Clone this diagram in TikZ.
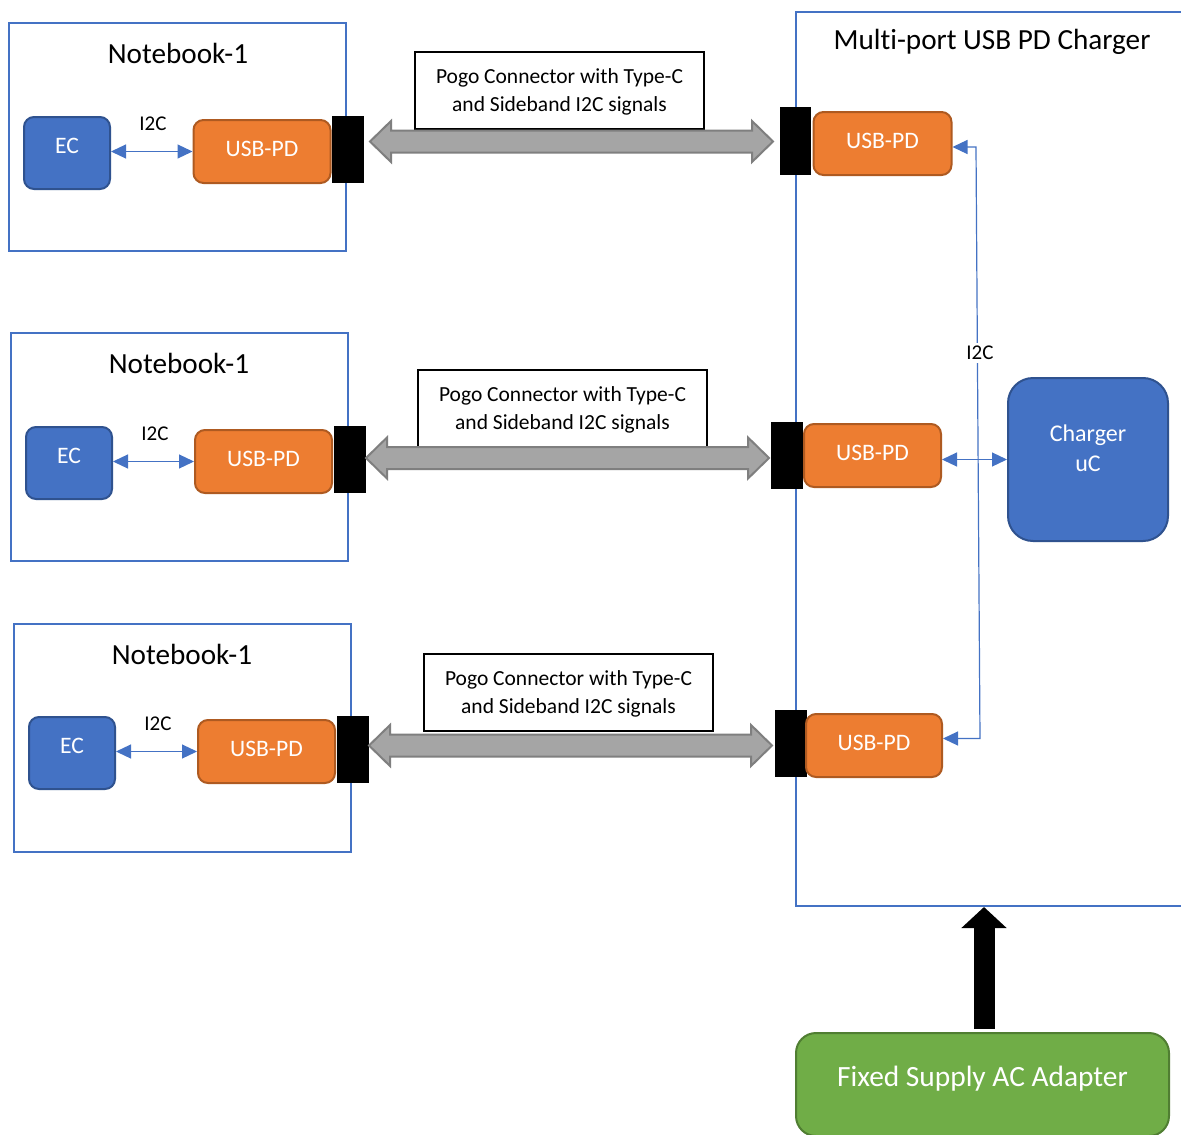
\documentclass[tikz,border=0pt]{standalone}
\usepackage{fontspec}
\setmainfont[Ligatures=NoCommon,RawFeature={-calt}]{Carlito}
\usetikzlibrary{arrows.meta,calc}
\definecolor{obl}{HTML}{4472C4}
\definecolor{obld}{HTML}{2F528F}
\definecolor{oor}{HTML}{ED7D31}
\definecolor{oord}{HTML}{AE5A21}
\definecolor{ogr}{HTML}{70AD47}
\definecolor{ogrd}{HTML}{507E32}
\definecolor{ogy}{HTML}{A5A5A5}
\definecolor{ogyd}{HTML}{7F7F7F}
\newcommand{\fs}[2]{\fontsize{#1}{#2}\selectfont}
\newcommand{\pogoarrow}[2]{%
  \draw[pogo] (#1) -- ($(#1)+(21,-20.5)$) -- ($(#1)+(21,-11)$) -- ($(#2)+(-21,-11)$)
    -- ($(#2)+(-21,-20.5)$) -- (#2) -- ($(#2)+(-21,20.5)$) -- ($(#2)+(-21,11)$)
    -- ($(#1)+(21,11)$) -- ($(#1)+(21,20.5)$) -- cycle;}
\tikzset{
  frame/.style={draw=obl, line width=2pt, minimum width=337pt, minimum height=228pt, inner sep=0pt},
  title/.style={font=\fs{29.2}{35}, inner sep=0pt},
  ecbox/.style={draw=obld, line width=2pt, fill=obl, rounded corners=10pt, minimum width=86pt, minimum height=72pt, text=white, font=\fs{23.6}{28}, inner sep=0pt, text height=15pt, text depth=14pt},
  usbbox/.style={draw=oord, line width=2pt, fill=oor, rounded corners=10pt, minimum width=137pt, minimum height=63pt, text=white, font=\fs{23.6}{28}, inner sep=0pt, text height=15pt, text depth=5pt},
  plug/.style={fill=black, minimum width=32pt, minimum height=67pt, inner sep=0pt},
  pogolabel/.style={draw=black, line width=1.5pt, fill=white, minimum width=289pt, minimum height=77pt, inner sep=0pt},
  pogotext/.style={align=center, font=\fs{21.5}{28}, inner sep=0pt},
  pogo/.style={draw=ogyd, line width=2pt, fill=ogy, line join=miter},
  i2c/.style={draw=obl, line width=1.2pt, {Triangle[length=15pt,width=14pt]}-{Triangle[length=15pt,width=14pt]}},
  i2cl/.style={font=\fs{21}{25}, inner sep=1pt},
}
\begin{document}
\begin{tikzpicture}[x=1pt,y=-1pt]
\useasboundingbox (0,0) rectangle (1181,1135);
\clip (0,0) rectangle (1181,1135);
\fill[white] (0,0) rectangle (1181,1135);

% charger enclosure
\node[draw=obl, line width=2pt, minimum width=400pt, minimum height=894pt, inner sep=0pt] (chg) at (996,459) {};
\node[title] (chgt) at (992,42) {Mult\kern0pt i-port USB PD Charger};

% row 1
\node[frame] (nb1) at (177.5,137) {};
\node[title] (t1) at (178,53) {Notebook-1};
\node[ecbox] (ec1) at (67,153) {EC};
\node[usbbox] (u1) at (262,151.5) {USB-PD};
\node[plug] (k1) at (348,149.5) {};
\node[i2cl] (l1) at (153,124) {I2C};
\draw[i2c] (ec1.east |- u1.west) -- (u1.west);
\node[pogolabel, label={[pogotext, yshift=-1.5pt]center:Pogo Connector with Type-C\\and Sideband I2C signals}] (p1) at (559.5,90.5) {};
\node[plug, minimum width=31pt, minimum height=68pt] (kr1) at (795.5,141) {};
\node[usbbox, minimum width=138pt] (ur1) at (882.5,143.5) {USB-PD};
\coordinate (pa1) at (370,141.5);
\coordinate (pb1) at (773,141.5);
\pogoarrow{pa1}{pb1}

% row 2
\node[frame] (nb2) at (179.5,447) {};
\node[title] (t2) at (179,363) {Notebook-1};
\node[ecbox] (ec2) at (69,463) {EC};
\node[usbbox] (u2) at (263.5,461.5) {USB-PD};
\node[plug] (k2) at (350,459.5) {};
\node[i2cl] (l2) at (155,434) {I2C};
\draw[i2c] (ec2.east |- u2.west) -- (u2.west);
\node[pogolabel, label={[pogotext, yshift=-1.5pt]center:Pogo Connector with Type-C\\and Sideband I2C signals}] (p2) at (562.5,408.5) {};
\node[plug] (kr2) at (787,455.5) {};
\node[usbbox] (ur2) at (872.5,455.5) {USB-PD};
\coordinate (pa2) at (366,458);
\coordinate (pb2) at (769,458);
\pogoarrow{pa2}{pb2}

% row 3
\node[frame] (nb3) at (182.5,738) {};
\node[title] (t3) at (182,654) {Notebook-1};
\node[ecbox] (ec3) at (72,753) {EC};
\node[usbbox] (u3) at (266.5,751.5) {USB-PD};
\node[plug] (k3) at (353,749.5) {};
\node[i2cl] (l3) at (158,724) {I2C};
\draw[i2c] (ec3.east |- u3.west) -- (u3.west);
\node[pogolabel, label={[pogotext, yshift=-1.5pt]center:Pogo Connector with Type-C\\and Sideband I2C signals}] (p3) at (568.5,692.5) {};
\node[plug] (kr3) at (791,743.5) {};
\node[usbbox, minimum width=136pt] (ur3) at (874,745.5) {USB-PD};
\coordinate (pa3) at (369,745.5);
\coordinate (pb3) at (772,745.5);
\pogoarrow{pa3}{pb3}

% charger uC
\node[draw=obld, line width=2pt, fill=obl, rounded corners=25pt, minimum width=160pt, minimum height=163pt, inner sep=0pt,
  label={[text=white, font=\fs{24}{30}, align=center, yshift=11pt]center:Charger\\uC}] (uc) at (1088,459.5) {};

% I2C bus on the charger side
\coordinate (bt) at (976,147);
\coordinate (bb) at (980,738.5);
\draw[i2c] (ur1.east |- bt) -- (bt) -- (bb) -- (ur3.east |- bb);
\draw[i2c] (ur2.east |- uc.west) -- (uc.west);
\node[i2cl, fill=white, inner sep=3pt] (l4) at (980,353) {I2C};

% adapter
\node[draw=ogrd, line width=2pt, fill=ogr, rounded corners=20pt, minimum width=373pt, minimum height=103pt, inner sep=0pt,
  text=white, font=\fs{29.4}{34}, text height=20pt, text depth=17pt] (ad) at (982.5,1084.5) {Fixed Supply AC Adapter};
\coordinate (arx) at (984,0);
\draw[line width=21pt, -{Triangle[length=21pt,width=44pt]}] ($(ad.north -| arx)+(0,-3)$) -- (chg.south -| arx);
\end{tikzpicture}
\end{document}
